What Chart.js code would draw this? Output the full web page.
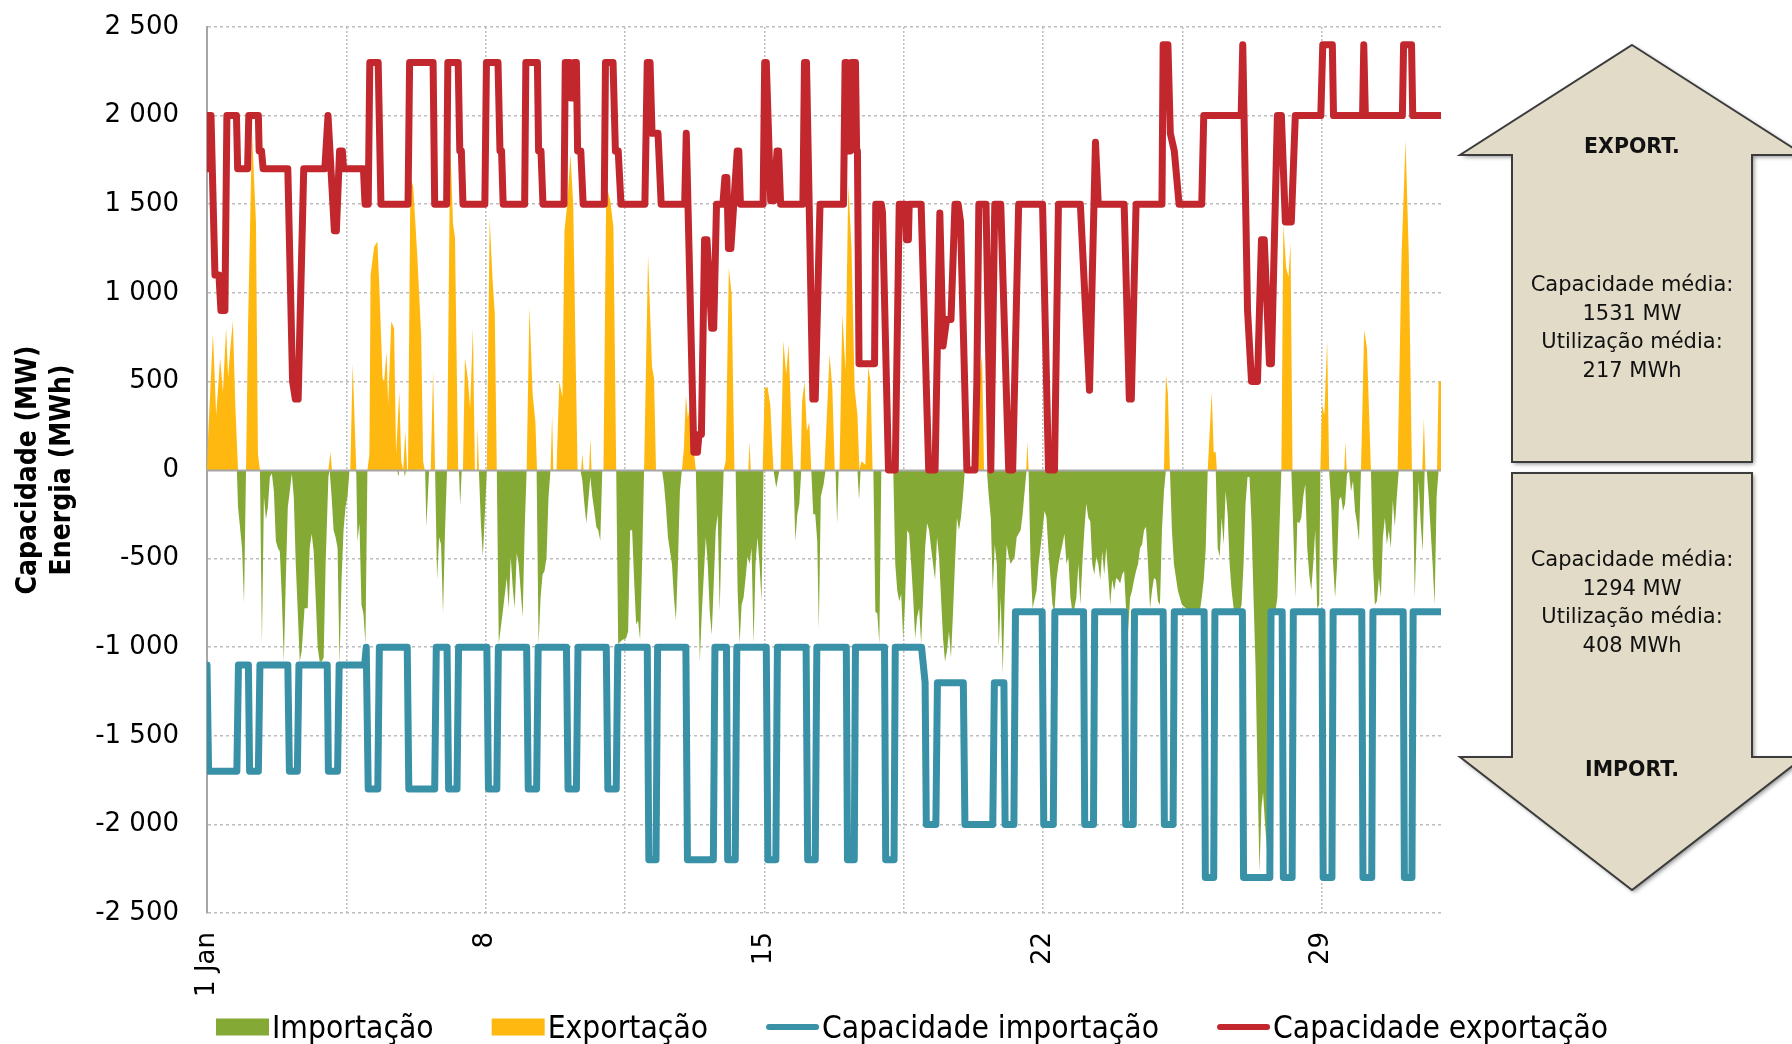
<!DOCTYPE html>
<html><head><meta charset="utf-8">
<script src="https://cdn.jsdelivr.net/npm/chart.js@4.4.1/dist/chart.umd.min.js"></script>
<style>
html,body{margin:0;padding:0;background:#fff;}
canvas{display:block;}
</style></head><body>
<canvas id="c" width="1792" height="1044"></canvas>
<script>
// ---------- DATA (x = days since 1 Jan 00:00, y = MW / MWh) ----------
const xTickDays = [0, 7, 14, 21, 28];
const xTickLabels = ['1 Jan', '8', '15', '22', '29'];
const xGridDays = [0, 3.5, 7, 10.5, 14, 17.5, 21, 24.5, 28];
const yMin = -2500, yMax = 2500, yStep = 500;
const seriesNames = ['Importação', 'Exportação', 'Capacidade importação', 'Capacidade exportação'];
const yTitle = ['Capacidade (MW)', 'Energia (MWh)'];
const arrowLabels = ['EXPORT.', 'IMPORT.'];
const exportStats = ['Capacidade média:', '1531 MW', 'Utilização média:', '217 MWh'];
const importStats = ['Capacidade média:', '1294 MW', 'Utilização média:', '408 MWh'];

const exportCapacity = [
[0,1700],[0.02,2000],[0.1,2000],[0.2,1100],[0.3,1100],[0.35,900],[0.45,900],[0.5,2000],[0.74,2000],[0.77,1700],[1.02,1700],[1.05,2000],[1.29,2000],[1.31,1800],[1.37,1800],[1.41,1700],[2.03,1700],[2.15,500],[2.22,400],[2.29,400],[2.43,1700],[2.96,1700],[3.04,2000],[3.2,1350],[3.25,1350],[3.33,1800],[3.4,1800],[3.43,1700],[3.93,1700],[3.97,1500],[4.05,1500],[4.09,2300],[4.3,2300],[4.37,1500],[5.05,1500],[5.09,2300],[5.68,2300],[5.72,1500],[6.02,1500],[6.05,2300],[6.31,2300],[6.35,1800],[6.39,1800],[6.43,1500],[6.98,1500],[7.02,2300],[7.31,2300],[7.36,1800],[7.4,1800],[7.44,1500],[7.98,1500],[8.01,2300],[8.3,2300],[8.33,1800],[8.39,1800],[8.44,1500],[8.97,1500],[9.0,2300],[9.11,2300],[9.14,2100],[9.2,2100],[9.22,2300],[9.28,2300],[9.31,1800],[9.39,1800],[9.45,1500],[9.98,1500],[10.01,2300],[10.2,2300],[10.26,1800],[10.33,1800],[10.4,1500],[11.0,1500],[11.06,2300],[11.13,2300],[11.18,1900],[11.33,1900],[11.41,1500],[12.0,1500],[12.04,1900],[12.23,100],[12.32,100],[12.36,200],[12.42,200],[12.5,1300],[12.56,1300],[12.68,800],[12.73,800],[12.8,1500],[12.96,1500],[13.01,1650],[13.06,1650],[13.1,1250],[13.16,1250],[13.32,1800],[13.36,1800],[13.4,1500],[13.97,1500],[14.01,2300],[14.05,2300],[14.16,1520],[14.24,1520],[14.32,1800],[14.36,1800],[14.41,1500],[14.97,1500],[15.01,2300],[15.06,2300],[15.22,400],[15.28,400],[15.4,1500],[15.99,1500],[16.03,2300],[16.07,2300],[16.1,1800],[16.16,1800],[16.19,2300],[16.29,2300],[16.32,1800],[16.34,1800],[16.38,600],[16.77,600],[16.8,1500],[16.94,1500],[16.97,1450],[17.12,0],[17.29,0],[17.39,1500],[17.54,1500],[17.57,1300],[17.62,1300],[17.64,1500],[17.94,1500],[18.13,0],[18.29,0],[18.41,1450],[18.49,700],[18.58,850],[18.69,850],[18.79,1500],[18.87,1500],[18.93,1400],[19.09,0],[19.29,0],[19.34,500],[19.39,1500],[19.57,1500],[19.69,0],[19.79,1500],[19.94,1500],[20.14,0],[20.24,0],[20.39,1500],[20.99,1500],[21.14,0],[21.29,0],[21.39,1500],[21.94,1500],[22.17,450],[22.32,1850],[22.39,1500],[23.04,1500],[23.17,400],[23.22,400],[23.34,1500],[23.99,1500],[24.02,2400],[24.14,2400],[24.2,1900],[24.3,1800],[24.42,1500],[24.99,1500],[25.04,2000],[25.98,2000],[26.02,2400],[26.14,900],[26.24,500],[26.39,500],[26.49,1300],[26.56,1300],[26.69,600],[26.74,600],[26.89,2000],[26.99,2000],[27.09,1400],[27.24,1400],[27.34,2000],[27.98,2000],[28.03,2400],[28.27,2400],[28.3,2000],[29.03,2000],[29.06,2400],[29.1,2000],[30.03,2000],[30.06,2400],[30.26,2400],[30.29,2000],[31,2000]
];

const importCapacity = [
[0,-1100],[0.04,-1700],[0.75,-1700],[0.79,-1100],[1.04,-1100],[1.07,-1700],[1.29,-1700],[1.33,-1100],[2.03,-1100],[2.07,-1700],[2.27,-1700],[2.31,-1100],[3.02,-1100],[3.05,-1700],[3.28,-1700],[3.32,-1100],[3.96,-1100],[4.0,-1000],[4.05,-1800],[4.29,-1800],[4.33,-1000],[5.03,-1000],[5.07,-1800],[5.72,-1800],[5.76,-1000],[6.03,-1000],[6.07,-1800],[6.28,-1800],[6.32,-1000],[7.03,-1000],[7.07,-1800],[7.28,-1800],[7.32,-1000],[8.03,-1000],[8.07,-1800],[8.28,-1800],[8.32,-1000],[9.03,-1000],[9.07,-1800],[9.28,-1800],[9.32,-1000],[10.03,-1000],[10.07,-1800],[10.28,-1800],[10.32,-1000],[11.06,-1000],[11.1,-2200],[11.28,-2200],[11.32,-1000],[12.03,-1000],[12.07,-2200],[12.72,-2200],[12.76,-1000],[13.05,-1000],[13.08,-2200],[13.27,-2200],[13.31,-1000],[14.05,-1000],[14.09,-2200],[14.29,-2200],[14.33,-1000],[15.05,-1000],[15.09,-2200],[15.28,-2200],[15.32,-1000],[16.06,-1000],[16.09,-2200],[16.26,-2200],[16.29,-1000],[17.02,-1000],[17.05,-2200],[17.26,-2200],[17.29,-1000],[17.95,-1000],[18.04,-1200],[18.07,-2000],[18.31,-2000],[18.35,-1200],[19.0,-1200],[19.04,-2000],[19.74,-2000],[19.78,-1200],[20.02,-1200],[20.05,-2000],[20.27,-2000],[20.31,-800],[20.98,-800],[21.02,-2000],[21.26,-2000],[21.3,-800],[22.02,-800],[22.05,-2000],[22.27,-2000],[22.3,-800],[23.05,-800],[23.08,-2000],[23.27,-2000],[23.3,-800],[24.02,-800],[24.05,-2000],[24.27,-2000],[24.3,-800],[25.05,-800],[25.08,-2300],[25.29,-2300],[25.32,-800],[26.01,-800],[26.04,-2300],[26.7,-2300],[26.73,-800],[27.01,-800],[27.04,-2300],[27.26,-2300],[27.29,-800],[28.01,-800],[28.04,-2300],[28.26,-2300],[28.29,-800],[29.01,-800],[29.04,-2300],[29.26,-2300],[29.29,-800],[30.05,-800],[30.08,-2300],[30.27,-2300],[30.3,-800],[31,-800]
];

const exportEnergy = [
[0,0],[0.03,200],[0.15,770],[0.23,310],[0.33,630],[0.4,440],[0.48,800],[0.53,520],[0.58,670],[0.65,840],[0.71,370],[0.78,0],
[0.98,0],[1.03,800],[1.13,1910],[1.23,1400],[1.28,90],[1.33,0],
[3.05,0],[3.1,100],[3.14,0],
[3.6,0],[3.66,600],[3.75,0],
[4.03,0],[4.08,90],[4.11,1100],[4.2,1260],[4.28,1290],[4.33,1030],[4.41,520],[4.45,500],[4.51,670],[4.55,370],[4.63,840],[4.7,800],[4.75,90],[4.83,440],[4.88,50],[4.93,0],[4.98,220],[5.03,0],
[5.05,0],[5.11,1650],[5.18,1600],[5.28,1220],[5.38,760],[5.43,50],[5.47,0],
[5.62,0],[5.68,560],[5.73,0],
[6.03,0],[6.11,1860],[6.18,1390],[6.23,1310],[6.31,0],
[6.43,0],[6.48,630],[6.55,520],[6.61,350],[6.68,800],[6.73,0],[6.78,0],[6.8,240],[6.83,0],
[7.03,0],[7.1,1420],[7.18,1050],[7.23,880],[7.28,0],
[8.03,0],[8.1,920],[8.18,430],[8.25,270],[8.29,0],
[8.63,0],[8.67,310],[8.7,0],
[8.78,0],[8.85,500],[8.93,410],[8.98,1350],[9.05,1500],[9.13,1780],[9.2,1500],[9.26,650],[9.31,0],
[9.4,0],[9.43,90],[9.46,0],[9.6,0],[9.63,180],[9.66,0],
[9.96,0],[10.03,1610],[10.13,1520],[10.21,1370],[10.28,0],
[10.98,0],[11.08,1210],[11.18,580],[11.23,520],[11.28,0],
[11.93,0],[11.98,120],[12.03,420],[12.08,290],[12.15,390],[12.21,160],[12.28,0],
[12.98,0],[13.03,50],[13.11,1140],[13.18,990],[13.25,0],
[13.6,0],[13.63,160],[13.66,0],
[13.96,0],[14.01,460],[14.08,470],[14.15,370],[14.23,0],
[14.41,0],[14.48,730],[14.55,540],[14.61,710],[14.68,270],[14.73,0],
[14.91,0],[14.95,390],[15.01,500],[15.07,220],[15.13,270],[15.18,0],
[15.51,0],[15.64,650],[15.71,460],[15.77,0],
[15.89,0],[15.96,880],[16.04,560],[16.11,1610],[16.19,1260],[16.27,460],[16.34,310],[16.39,0],
[16.44,50],[16.54,30],[16.61,580],[16.67,500],[16.72,0],
[19.34,0],[19.39,480],[19.47,650],[19.52,0],
[20.58,0],[20.61,160],[20.64,0],
[24.04,0],[24.09,540],[24.14,430],[24.19,0],
[25.14,0],[25.24,440],[25.29,100],[25.34,100],[25.37,0],
[26.99,0],[27.04,1390],[27.11,1140],[27.17,1090],[27.22,1280],[27.27,0],
[27.97,0],[28.01,370],[28.07,310],[28.14,730],[28.19,0],
[28.57,0],[28.6,160],[28.63,0],
[28.99,0],[29.07,790],[29.14,690],[29.24,0],
[29.91,0],[30.01,1220],[30.11,1860],[30.19,1220],[30.27,0],
[30.53,0],[30.57,290],[30.61,0],
[30.9,0],[30.94,500],[31,500]
];

const importEnergy = [
[0,0],[0.75,0],[0.78,-210],[0.88,-440],[0.93,-750],[0.98,0],
[1.33,0],[1.38,-980],[1.43,-150],[1.48,-280],[1.53,-210],[1.58,-40],[1.63,-20],[1.68,-120],[1.73,-400],[1.78,-440],[1.83,-460],[1.88,-720],[1.93,-1080],[1.98,-620],[2.03,-210],[2.08,-120],[2.13,-20],[2.18,-150],[2.23,-530],[2.28,-800],[2.33,-1080],[2.38,-1020],[2.45,-780],[2.53,-780],[2.58,-440],[2.63,-360],[2.68,-460],[2.73,-720],[2.78,-1000],[2.83,-1080],[2.88,-1080],[2.93,-1060],[2.98,-530],[3.05,-40],[3.08,0],
[3.13,-150],[3.18,-340],[3.23,-380],[3.28,-440],[3.33,-1100],[3.38,-620],[3.43,-340],[3.48,-210],[3.53,-150],[3.58,0],
[3.73,0],[3.75,-20],[3.78,-400],[3.83,-300],[3.88,-760],[3.93,-810],[3.98,-980],[4.03,0],
[4.78,0],[4.8,-30],[4.82,0],[4.95,0],[4.97,-40],[5.0,0],
[5.48,0],[5.51,-320],[5.58,0],
[5.73,0],[5.78,-620],[5.83,-380],[5.88,-420],[5.93,-810],[5.98,-340],[6.03,0],
[6.33,0],[6.36,-200],[6.4,0],
[6.83,0],[6.88,-300],[6.93,-490],[6.98,-250],[7.03,0],
[7.28,0],[7.33,-980],[7.43,-800],[7.53,-610],[7.58,-780],[7.63,-490],[7.68,-660],[7.73,-780],[7.78,-470],[7.83,-530],[7.88,-680],[7.93,-830],[7.98,-340],[8.03,0],
[8.28,0],[8.33,-980],[8.38,-720],[8.43,-590],[8.48,-570],[8.53,-490],[8.58,-150],[8.63,0],
[9.38,0],[9.43,-60],[9.48,-190],[9.53,-300],[9.58,-170],[9.63,-40],[9.68,-150],[9.73,-230],[9.78,-320],[9.83,-340],[9.88,-400],[9.93,0],
[10.28,0],[10.33,-980],[10.43,-960],[10.53,-950],[10.58,-910],[10.63,-340],[10.68,-340],[10.73,-620],[10.78,-870],[10.83,-850],[10.88,-960],[10.93,-530],[10.98,0],
[11.43,0],[11.48,-80],[11.53,-210],[11.58,-380],[11.68,-530],[11.73,-720],[11.78,-850],[11.83,-530],[11.88,-120],[11.93,0],
[12.28,0],[12.33,-530],[12.38,-1080],[12.43,-810],[12.53,-380],[12.58,-530],[12.63,-800],[12.68,-930],[12.73,-640],[12.78,-340],[12.83,-250],[12.88,-800],[12.93,-340],[12.98,0],
[13.28,0],[13.33,-680],[13.38,-980],[13.43,-760],[13.48,-720],[13.53,-610],[13.58,-490],[13.63,-530],[13.68,-440],[13.73,-980],[13.78,-530],[13.83,-380],[13.88,-530],[13.93,-740],[13.98,0],
[14.23,0],[14.3,-100],[14.38,0],
[14.73,0],[14.78,-400],[14.83,-250],[14.88,-190],[14.93,0],
[15.18,0],[15.23,-250],[15.28,-250],[15.33,-400],[15.37,-900],[15.42,-150],[15.49,-80],[15.54,0],
[15.79,0],[15.83,-300],[15.87,0],
[16.34,0],[16.38,-170],[16.42,0],
[16.74,0],[16.79,-800],[16.84,-810],[16.89,-980],[16.94,0],
[17.24,0],[17.29,-530],[17.34,-680],[17.39,-740],[17.44,-700],[17.49,-960],[17.54,-720],[17.59,-340],[17.64,-360],[17.69,-530],[17.74,-720],[17.79,-950],[17.84,-830],[17.89,-780],[17.94,-980],[17.99,-720],[18.04,-440],[18.09,-300],[18.14,-340],[18.19,-440],[18.24,-530],[18.29,-620],[18.34,-380],[18.39,-490],[18.44,-720],[18.49,-950],[18.54,-1080],[18.59,-1020],[18.64,-910],[18.69,-1060],[18.74,-810],[18.79,-530],[18.84,-270],[18.89,-340],[18.94,-270],[18.99,-150],[19.04,0],
[19.59,0],[19.64,-150],[19.69,-270],[19.74,-680],[19.79,-420],[19.84,-530],[19.89,-1000],[19.94,-720],[19.99,-1150],[20.04,-720],[20.09,-420],[20.14,-490],[20.19,-530],[20.29,-490],[20.34,-380],[20.44,-340],[20.49,-250],[20.54,-120],[20.59,0],
[20.64,0],[20.69,-530],[20.74,-780],[20.84,-680],[20.89,-530],[20.99,-340],[21.04,-230],[21.09,-270],[21.14,-460],[21.19,-610],[21.24,-760],[21.29,-800],[21.34,-620],[21.39,-530],[21.44,-470],[21.49,-420],[21.54,-360],[21.59,-530],[21.64,-490],[21.69,-720],[21.74,-800],[21.79,-780],[21.84,-720],[21.89,-530],[21.94,-760],[21.99,-530],[22.04,-340],[22.09,-190],[22.14,-270],[22.19,-290],[22.24,-530],[22.29,-590],[22.34,-490],[22.39,-530],[22.44,-620],[22.49,-460],[22.54,-590],[22.59,-440],[22.64,-590],[22.69,-760],[22.74,-620],[22.79,-680],[22.84,-610],[22.89,-620],[22.94,-640],[22.99,-590],[23.04,-570],[23.09,-800],[23.14,-910],[23.19,-720],[23.24,-680],[23.29,-620],[23.34,-570],[23.39,-530],[23.44,-440],[23.49,-420],[23.54,-340],[23.59,-320],[23.64,-530],[23.69,-780],[23.74,-680],[23.79,-610],[23.84,-620],[23.89,-740],[23.94,-760],[23.99,-340],[24.04,-120],[24.09,0],
[24.19,0],[24.24,-340],[24.29,-530],[24.39,-680],[24.49,-760],[24.59,-780],[24.69,-800],[24.79,-800],[24.89,-800],[24.94,-800],[24.99,-720],[25.04,-620],[25.09,-440],[25.14,0],
[25.34,0],[25.39,-440],[25.44,-490],[25.49,-270],[25.54,-420],[25.59,-120],[25.64,-250],[25.69,-530],[25.74,-680],[25.79,-780],[25.84,-800],[25.94,-800],[25.99,-760],[26.04,-530],[26.09,-190],[26.14,-40],[26.19,-40],[26.24,-300],[26.29,-720],[26.34,-1100],[26.39,-1700],[26.44,-2270],[26.49,-1900],[26.53,-1820],[26.58,-2000],[26.63,-2140],[26.67,-1300],[26.72,-850],[26.79,-790],[26.84,-800],[26.89,-720],[26.94,-340],[26.99,0],
[27.24,0],[27.29,-340],[27.34,-720],[27.39,-290],[27.44,-300],[27.49,-270],[27.54,-150],[27.59,-80],[27.64,-440],[27.69,-590],[27.74,-680],[27.79,-530],[27.84,-340],[27.89,-780],[27.94,-760],[27.97,0],
[28.19,0],[28.24,-190],[28.29,-530],[28.34,-720],[28.39,-530],[28.44,-170],[28.49,-150],[28.54,-230],[28.59,-190],[28.64,-20],[28.69,-10],[28.74,-120],[28.79,-60],[28.84,-230],[28.89,-300],[28.94,-400],[28.99,0],
[29.24,0],[29.29,-530],[29.34,-760],[29.39,-740],[29.44,-610],[29.49,-720],[29.54,-380],[29.59,-270],[29.64,-420],[29.69,-340],[29.74,-440],[29.79,-170],[29.84,-320],[29.89,-150],[29.94,0],
[30.29,0],[30.34,-720],[30.39,-340],[30.44,-60],[30.49,-300],[30.54,-460],[30.59,0],
[30.64,0],[30.69,-150],[30.74,-340],[30.79,-530],[30.84,-760],[30.89,-150],[30.94,0],[31,0]
];

// ---------- STYLE ----------
const COLORS = { imp: '#85A935', exp: '#FFB80F', impCap: '#3891A7', expCap: '#C1272D' };
const toXY = arr => arr.map(([x, y]) => ({ x, y }));
const fmtNum = v => {
  const s = Math.abs(v).toString().replace(/\B(?=(\d{3})+(?!\d))/g, ' ');
  return (v < 0 ? '-' : '') + s;
};

Chart.defaults.font.family = '"DejaVu Sans", sans-serif';
Chart.defaults.color = '#000';

const zeroLinePlugin = {
  id: 'zeroLine',
  beforeDatasetDraw(chart, args) {
    if (args.index !== 2) return;
    const { ctx, chartArea, scales } = chart;
    const y = Math.round(scales.y.getPixelForValue(0)) + 0.5;
    ctx.save();
    ctx.strokeStyle = '#A6A6A6';
    ctx.lineWidth = 2;
    ctx.beginPath();
    ctx.moveTo(chartArea.left, y);
    ctx.lineTo(chartArea.right, y);
    ctx.stroke();
    ctx.restore();
  }
};

const legendPlugin = {
  id: 'customLegend',
  afterDraw(chart) {
    const ctx = chart.ctx;
    ctx.save();
    ctx.font = '31.5px "DejaVu Sans Condensed"';
    ctx.textAlign = 'left';
    ctx.textBaseline = 'alphabetic';
    let x = 216;
    const cy = 1027;
    chart.data.datasets.forEach(ds => {
      if (ds.legendKind === 'box') {
        ctx.fillStyle = ds.backgroundColor;
        ctx.fillRect(x, cy - 8.5, 53, 17);
      } else {
        ctx.strokeStyle = ds.borderColor;
        ctx.lineWidth = 6;
        ctx.lineCap = 'round';
        ctx.beginPath();
        ctx.moveTo(x + 3, cy);
        ctx.lineTo(x + 50, cy);
        ctx.stroke();
      }
      ctx.fillStyle = '#000';
      ctx.fillText(ds.label, x + 56, cy + 11);
      x += 56 + ctx.measureText(ds.label).width + 58;
    });
    ctx.restore();
  }
};

const arrowPlugin = {
  id: 'arrows',
  afterDraw(chart) {
    const ctx = chart.ctx;
    ctx.save();
    const up = [[1632,45],[1804,155],[1752,155],[1752,462],[1512,462],[1512,155],[1460,155]];
    const down = [[1512,473],[1752,473],[1752,757],[1804,757],[1632,890],[1460,757],[1512,757]];
    for (const poly of [up, down]) {
      ctx.beginPath();
      poly.forEach(([x, y], i) => i ? ctx.lineTo(x, y) : ctx.moveTo(x, y));
      ctx.closePath();
      ctx.shadowColor = 'rgba(0,0,0,0.45)';
      ctx.shadowBlur = 4; ctx.shadowOffsetX = 2; ctx.shadowOffsetY = 2;
      ctx.fillStyle = '#E2DBC7';
      ctx.fill();
      ctx.shadowColor = 'transparent';
      ctx.lineWidth = 2;
      ctx.strokeStyle = '#3C3C3C';
      ctx.stroke();
    }
    ctx.fillStyle = '#111';
    ctx.textAlign = 'center';
    ctx.textBaseline = 'middle';
    ctx.font = 'bold 20.5px "DejaVu Sans"';
    ctx.fillText(arrowLabels[0], 1632, 148);
    ctx.fillText(arrowLabels[1], 1632, 771);
    ctx.font = '21px "DejaVu Sans"';
    exportStats.forEach((t, i) => ctx.fillText(t, 1632, 286 + i * 28.5));
    importStats.forEach((t, i) => ctx.fillText(t, 1632, 561 + i * 28.5));
    ctx.restore();
  }
};

new Chart(document.getElementById('c'), {
  type: 'line',
  data: {
    datasets: [
      { label: seriesNames[0], data: toXY(importEnergy), fill: 'origin', backgroundColor: COLORS.imp, borderColor: 'rgba(0,0,0,0)', borderWidth: 0, pointRadius: 0, order: 4, legendKind: 'box' },
      { label: seriesNames[1], data: toXY(exportEnergy), fill: 'origin', backgroundColor: COLORS.exp, borderColor: 'rgba(0,0,0,0)', borderWidth: 0, pointRadius: 0, order: 3, legendKind: 'box' },
      { label: seriesNames[2], data: toXY(importCapacity), fill: false, borderColor: COLORS.impCap, backgroundColor: COLORS.impCap, borderWidth: 7, pointRadius: 0, borderJoinStyle: 'round', borderCapStyle: 'round', order: 2, legendKind: 'line' },
      { label: seriesNames[3], data: toXY(exportCapacity), fill: false, borderColor: COLORS.expCap, backgroundColor: COLORS.expCap, borderWidth: 7, pointRadius: 0, borderJoinStyle: 'round', borderCapStyle: 'round', order: 1, legendKind: 'line' }
    ]
  },
  options: {
    responsive: false,
    animation: false,
    layout: { padding: { left: 0, right: 351, top: 27, bottom: 45 } },
    plugins: { legend: { display: false }, tooltip: { enabled: false } },
    elements: { line: { tension: 0 } },
    scales: {
      x: {
        type: 'linear', min: 0, max: 31,
        afterBuildTicks: s => { s.ticks = xGridDays.map(v => ({ value: v })); },
        afterFit: s => { s.height = 86; },
        ticks: {
          autoSkip: false, maxRotation: 90, minRotation: 90, padding: 19,
          color: '#000', font: { size: 26 },
          callback: v => { const i = xTickDays.indexOf(v); return i >= 0 ? xTickLabels[i] : ''; }
        },
        grid: { color: '#BDBDBD', lineWidth: 1.5, drawTicks: false },
        border: { display: false, dash: [2, 2] }
      },
      y: {
        min: yMin, max: yMax,
        afterFit: s => { s.width = 207; },
        ticks: { stepSize: yStep, padding: 0, color: '#000', font: { size: 26 }, callback: v => fmtNum(v) },
        grid: { color: c => (c.tick && c.tick.value === 0) ? 'rgba(0,0,0,0)' : '#BDBDBD', lineWidth: 1.5, drawTicks: true, tickLength: 28, tickColor: 'rgba(0,0,0,0)' },
        border: { display: true, color: '#A6A6A6', width: 2, dash: [3, 3] },
        title: {
          display: true, text: yTitle, color: '#000',
          font: { family: '"DejaVu Sans Condensed", sans-serif', size: 28, weight: 'bold', lineHeight: 1.23 },
          padding: { top: 11, bottom: 0 }
        }
      }
    }
  },
  plugins: [zeroLinePlugin, legendPlugin, arrowPlugin]
});
</script>
</body></html>
